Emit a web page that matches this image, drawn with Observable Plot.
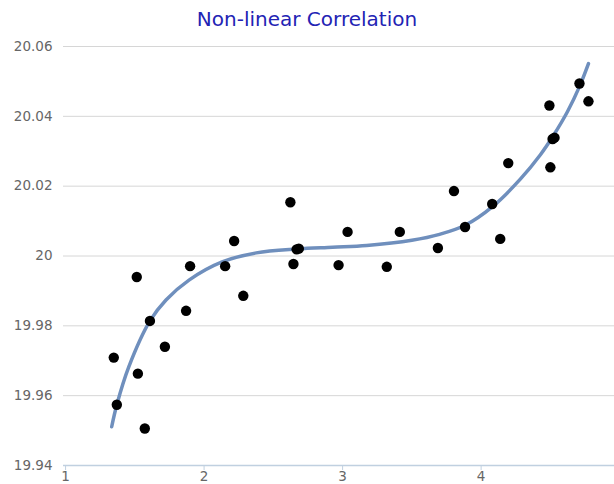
<!DOCTYPE html>
<html>
<head>
<meta charset="utf-8">
<script src="https://cdn.jsdelivr.net/npm/d3@7"></script>
<script src="https://cdn.jsdelivr.net/npm/@observablehq/plot@0.6"></script>
<style>
  html, body { margin: 0; padding: 0; background: #fff; }
  #title { height: 36px; line-height: 38px; text-align: center; font-family: "DejaVu Sans", sans-serif; font-size: 20px; color: #2323b4; }
  #chart svg { display: block; }
</style>
</head>
<body>
<div id="title">Non-linear Correlation</div>
<div id="chart"></div>
<script>
// Scatter points
const pointX = [1.348, 1.370, 1.514, 1.522, 1.572, 1.609, 1.717, 1.870, 1.899, 2.152, 2.217, 2.283,
  2.623, 2.645, 2.668, 2.684, 2.971, 3.036, 3.319, 3.413, 3.688, 3.804, 3.884, 4.080, 4.138, 4.196,
  4.493, 4.500, 4.516, 4.530, 4.710, 4.775];
const pointY = [19.9709, 19.9574, 19.9940, 19.9663, 19.9506, 19.9814, 19.9740, 19.9843, 19.9971, 19.9971, 20.0043, 19.9886,
  20.0154, 19.9977, 20.0019, 20.0021, 19.9974, 20.0069, 19.9969, 20.0069, 20.0023, 20.0186, 20.0083, 20.0149, 20.0049, 20.0266,
  20.0431, 20.0254, 20.0335, 20.0339, 20.0494, 20.0443];

// Trend curve
const curveX = [1.333, 1.370, 1.457, 1.609, 1.725, 1.891, 2.130, 2.377, 2.674, 2.928, 3.174,
  3.500, 3.700, 3.884, 4.087, 4.283, 4.428, 4.522, 4.623, 4.710, 4.775];
const curveY = [19.9511, 19.9574, 19.9683, 19.9814, 19.9874, 19.9931, 19.9983, 20.0009, 20.0020, 20.0025, 20.0030,
  20.0045, 20.0062, 20.0088, 20.0143, 20.0220, 20.0290, 20.0345, 20.0413, 20.0485, 20.0551];

// Ticks
const yTicks = [19.94, 19.96, 19.98, 20, 20.02, 20.04, 20.06];
const yTickLabels = ["19.94", "19.96", "19.98", "20", "20.02", "20.04", "20.06"];
const xTicks = [1, 2, 3, 4];
const xTickLabels = ["1", "2", "3", "4"];

const points = pointX.map((x, i) => ({x, y: pointY[i]}));
const curve = curveX.map((x, i) => ({x, y: curveY[i]}));

const chart = Plot.plot({
  width: 614,
  height: 448,
  marginLeft: 63,
  marginRight: 0,
  marginTop: 10,
  marginBottom: 19,
  style: { fontFamily: "DejaVu Sans, sans-serif", fontSize: "13.5px", background: "#fff" },
  x: { domain: [0.985, 4.963], label: null },
  y: { domain: [19.94, 20.06], label: null },
  marks: [
    Plot.gridY(yTicks, { stroke: "#d6d6d6", strokeOpacity: 1 }),
    Plot.axisY(yTicks, { tickSize: 0, tickPadding: 11, fill: "#666", fontSize: 13.5, label: null,
      tickFormat: (d) => yTickLabels[yTicks.indexOf(d)] }),
    Plot.ruleY([19.94], { stroke: "#c0d0e0", strokeWidth: 1.5 }),
    Plot.axisX(xTicks, { tickSize: 5, tickPadding: 1, stroke: "#c0d0e0", fill: "#666", fontSize: 13.5, label: null,
      tickFormat: (d) => xTickLabels[xTicks.indexOf(d)] }),
    Plot.line(curve, { x: "x", y: "y", stroke: "#6f8fbd", strokeWidth: 3.5, curve: "catmull-rom" }),
    Plot.dot(points, { x: "x", y: "y", r: 5.2, fill: "#000", stroke: "none" })
  ]
});
document.getElementById("chart").appendChild(chart);
</script>
</body>
</html>
